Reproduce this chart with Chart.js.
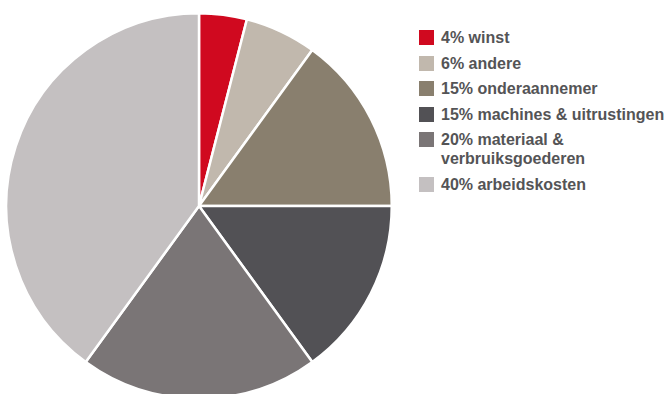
<!DOCTYPE html>
<html>

<head>
  <script src="https://cdn.jsdelivr.net/npm/chart.js@4.4.0/dist/chart.umd.min.js"></script>
  <style>
    body { margin: 0; width: 665px; height: 394px; overflow: hidden; background: #fff; position: relative; }
    #pieBox { position: absolute; left: 0; top: 0; width: 398px; height: 412px; }
    #legend { position: absolute; left: 419px; top: 30px; font-family: 'Liberation Sans', Arial, sans-serif; font-weight: bold; font-size: 16px; color: #545456; }
    .item { position: relative; padding-left: 22px; line-height: 19px; margin-bottom: 6.5px; white-space: pre-line; }
    .item span.box { position: absolute; left: 0; top: 0; width: 15px; height: 15px; }
    .item .txt { position: relative; top: -2px; }
  </style>
</head>

<body>
  <div id="pieBox"><canvas id="myChart"></canvas></div>
  <div id="legend"></div>
  <script type="text/javascript">
    // data
    var names = ['winst', 'andere', 'onderaannemer', 'machines & uitrustingen', 'materiaal &\nverbruiksgoederen', 'arbeidskosten'];
    var values = [4, 6, 15, 15, 20, 40];
    var colors = ['#d0091f', '#c1b8ad', '#897f6e', '#525155', '#7a7576', '#c4c0c1'];

    var labels = names.map(function(n, i) { return values[i] + '% ' + n; });

    // legend (html)
    var lg = document.getElementById('legend');
    labels.forEach(function(l, i) {
      var d = document.createElement('div');
      d.className = 'item';
      d.innerHTML = '<span class="box" style="background:' + colors[i] + '"></span><span class="txt"></span>';
      d.querySelector('.txt').textContent = l;
      lg.appendChild(d);
    });

    //chart
    var ctx = document.getElementById('myChart').getContext('2d');
    var chart = new Chart(ctx, {
      type: 'pie',
      data: {
        labels: labels,
        datasets: [{
          data: values,
          backgroundColor: colors,
          borderColor: '#ffffff',
          borderWidth: 2.5
        }]
      },
      options: {
        responsive: true,
        maintainAspectRatio: false,
        animation: false,
        layout: { padding: 5 },
        plugins: {
          legend: { display: false },
          tooltip: { enabled: false }
        }
      }
    });
  </script>
</body>

</html>
